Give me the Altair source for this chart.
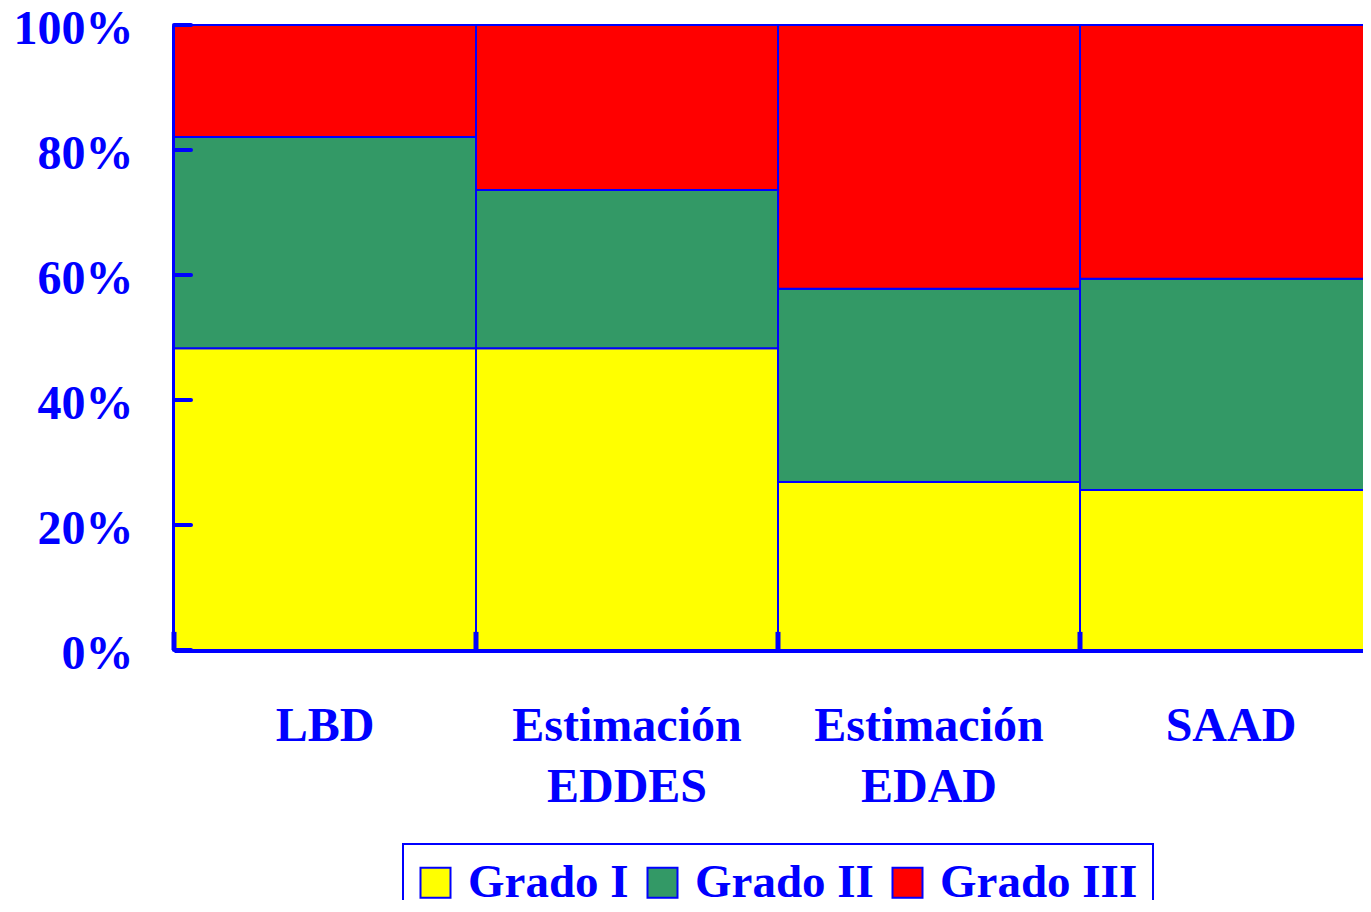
import altair as alt
import pandas as pd

categories = ["LBD", "Estimación EDDES", "Estimación EDAD", "SAAD"]
grades = ["Grado I", "Grado II", "Grado III"]
grado_i = [48.3, 48.3, 26.9, 25.6]
grado_ii = [33.8, 25.3, 30.9, 33.8]
grado_iii = [17.9, 26.4, 42.2, 40.6]
colors = ["#FFFF00", "#339966", "#FF0000"]
y_ticks = [0, 20, 40, 60, 80, 100]

rows = []
for i, c in enumerate(categories):
    for o, (g, vals) in enumerate(zip(grades, [grado_i, grado_ii, grado_iii])):
        rows.append({"cat": c, "grade": g, "pct": vals[i], "ord": o})
df = pd.DataFrame(rows)

BLUE = "#0000FF"
FONT = "Liberation Serif"

# the plot continues past the right edge of the page, as in the original
xscale = alt.Scale(domain=categories, paddingInner=0, paddingOuter=0, range=[0, 1208])
yscale = alt.Scale(domain=[0, 100], nice=False)

xaxis = alt.Axis(title=None, labelAngle=0, ticks=False, grid=False,
                 domainColor=BLUE, domainWidth=5,
                 labelFont=FONT, labelFontSize=48, labelFontWeight="bold",
                 labelColor=BLUE, labelPadding=52, labelLineHeight=61, labelLimit=0,
                 labelExpr="split(datum.label, ' ')")
yaxis = alt.Axis(title=None, values=y_ticks, ticks=False, grid=False,
                 domainColor=BLUE, domainWidth=5,
                 labelFont=FONT, labelFontSize=48, labelFontWeight="bold",
                 labelColor=BLUE, labelPadding=41, labelOffset=4,
                 labelExpr="datum.value + '%'")

bars = alt.Chart(df).mark_bar(stroke=BLUE, strokeWidth=2).encode(
    x=alt.X("cat:N", sort=categories, scale=xscale, axis=xaxis),
    y=alt.Y("pct:Q", stack="zero", scale=yscale, axis=yaxis),
    color=alt.Color("grade:N", scale=alt.Scale(domain=grades, range=colors),
                    legend=alt.Legend(title=None, orient="none", legendX=229, legendY=819,
                                      direction="horizontal", strokeColor=BLUE, padding=15,
                                      labelFont=FONT, labelFontSize=47, labelFontWeight="bold",
                                      labelColor=BLUE, labelLimit=0, symbolType="square",
                                      symbolSize=900, symbolStrokeColor=BLUE,
                                      symbolStrokeWidth=2, symbolOffset=-6,
                                      labelOffset=9, columnPadding=14)),
    order=alt.Order("ord:Q"),
)

yt = alt.Chart(pd.DataFrame({"pct": y_ticks})).mark_rule(
    color=BLUE, strokeWidth=4, strokeCap="round").encode(
    y=alt.Y("pct:Q", scale=yscale, axis=yaxis),
    x=alt.value(0), x2=alt.value(17))

xt = alt.Chart(pd.DataFrame({"cat": categories})).mark_rule(
    color=BLUE, strokeWidth=5).encode(
    x=alt.X("cat:N", sort=categories, scale=xscale, bandPosition=0, axis=xaxis),
    y=alt.datum(0, scale=yscale), y2=alt.datum(2.9))

chart = alt.layer(bars, yt, xt).properties(
    width=1189, height=625,
    autosize=alt.AutoSizeParams(type="none"),
    padding={"left": 166, "top": 17, "right": 0, "bottom": 250},
).configure_view(strokeWidth=0).configure_legend(strokeWidth=2)

chart.save("out.html", embed_options={"renderer": "svg", "actions": False})
